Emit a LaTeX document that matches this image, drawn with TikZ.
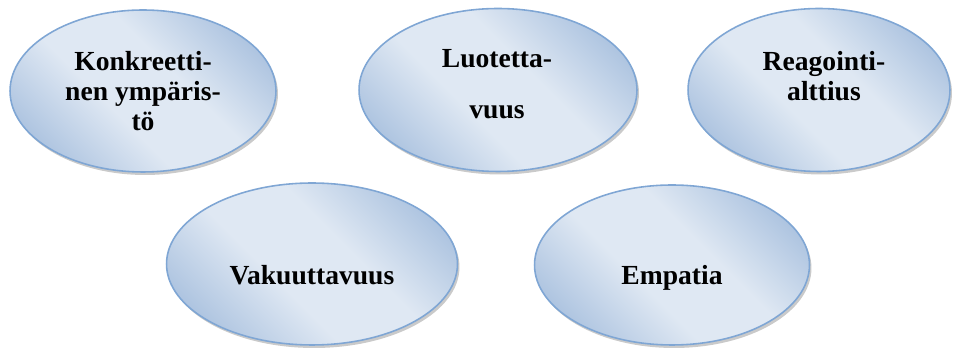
\documentclass[tikz,border=0pt]{standalone}
\usepackage{fontspec}
\setmainfont{Liberation Serif}
\usetikzlibrary{shapes.geometric,shadows}
\definecolor{palefill}{HTML}{DFE8F3}
\definecolor{deepfill}{HTML}{A8C0DE}
\definecolor{rimblue}{HTML}{7FA6D4}
\pgfdeclarehorizontalshading{ovalshade}{100bp}{color(0bp)=(deepfill); color(22bp)=(deepfill); color(42bp)=(palefill); color(58bp)=(palefill); color(78bp)=(deepfill); color(100bp)=(deepfill)}

\begin{document}
\begin{tikzpicture}[x=0.02cm,y=-0.02cm,
    oval/.style={ellipse,draw=rimblue,line width=0.9pt,shading=ovalshade,shading angle=45,inner sep=0pt,
        drop shadow={shadow xshift=0.04cm,shadow yshift=-0.06cm,fill=black!35,opacity=0.6}},
    word/.style={font=\fontsize{15.7}{17}\selectfont\bfseries,align=center,inner sep=0pt}]
            \useasboundingbox (0,0) rectangle (953,350);
            \node[oval,minimum width=5.32cm,minimum height=3.24cm] (konk) at (143,91) {};
            \node[oval,minimum width=5.56cm,minimum height=3.26cm] (luot) at (498,90) {};
            \node[oval,minimum width=5.24cm,minimum height=3.26cm] (reag) at (819,90) {};
            \node[oval,minimum width=5.82cm,minimum height=3.24cm] (vaku) at (312,264) {};
            \node[oval,minimum width=5.50cm,minimum height=3.20cm] (empa) at (672,265) {};
            \node[word] (konktxt) at (143,91) {Konkreetti-\\nen ympäris-\\tö};
            \node[word] (luottxt) at (497,84) {Luotetta-\\[12pt]vuus};
            \node[word] (reagtxt) at (824,76) {Reagointi-\\alttius};
            \node[word,anchor=base] (vakutxt) at (312,285) {Vakuuttavuus};
            \node[word,anchor=base] (empatxt) at (672,285) {Empatia};
        \end{tikzpicture}
\end{document}
